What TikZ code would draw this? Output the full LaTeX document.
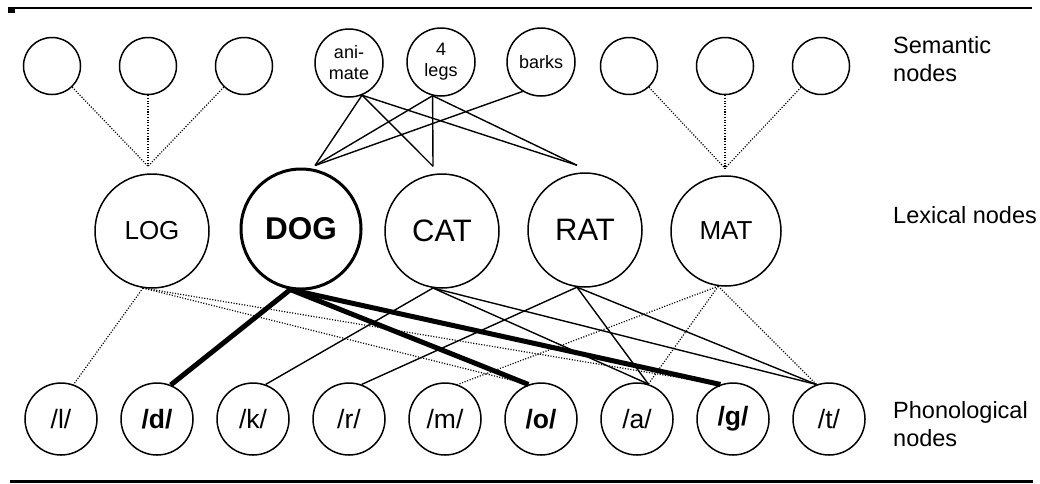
\documentclass[tikz,border=0pt]{standalone}
\usepackage{fontspec}
\setmainfont{Liberation Sans}
\usepackage{tikz}
\usetikzlibrary{positioning}

\begin{document}
\begin{tikzpicture}[x=1pt, y=-1pt, node distance=96pt]
\tikzstyle{sem} = [circle, draw=black, line width=1.5pt, minimum size=57pt, inner sep=0pt]
\tikzstyle{feat} = [sem, minimum size=68pt, align=center, font=\fontsize{18}{21}\selectfont]
\tikzstyle{lex} = [circle, draw=black, line width=1.5pt, minimum size=114pt, inner sep=0pt]
\tikzstyle{phon} = [circle, draw=black, line width=1.5pt, minimum size=72pt, inner sep=0pt, font=\fontsize{26.5}{30}\selectfont]
\tikzstyle{rowtext} = [anchor=west, align=left, inner sep=0pt, font=\fontsize{23.5}{28}\selectfont]
\tikzstyle{solidlink} = [draw, line width=1.4pt]
\tikzstyle{boldlink} = [draw, line width=5pt]
\tikzstyle{dotlink} = [draw, line width=1.2pt, dash pattern=on 1.1pt off 1.6pt]

\useasboundingbox (0,0) rectangle (1040,483);

% rules
\draw[line width=1.2pt] (8,8) -- (1032,8);
\fill (8,9) rectangle (15,13);
\draw[line width=3pt] (10,481) -- (1033,481);

% semantic nodes
\node[sem] (s1) at (52,66) {};
\node[sem] (s2) [right of=s1] {};
\node[sem] (s3) [right of=s2] {};
\node[feat] (anim) at (349,63) {ani-\\mate};
\node[feat] (legs) at (441,62) {4\\legs};
\node[feat] (barks) at (541,62) {barks};
\node[sem] (s7) at (629,66) {};
\node[sem] (s8) [right of=s7] {};
\node[sem] (s9) [right of=s8] {};

% lexical nodes
\node[lex, font=\fontsize{26}{30}\selectfont] (LOG) at (152,231) {LOG};
\node[lex, line width=3pt, minimum size=120pt, font=\fontsize{31.5}{36}\selectfont\bfseries] (DOG) at (301,229) {DOG};
\node[lex, font=\fontsize{31}{36}\selectfont] (CAT) at (442,231) {CAT};
\node[lex, font=\fontsize{31}{36}\selectfont] (RAT) at (585,230) {RAT};
\node[lex, minimum size=110pt, font=\fontsize{26}{30}\selectfont] (MAT) at (726,231) {MAT};

% phonological nodes
\node[phon] (phl) at (61,419) {/l/};
\node[phon] (phd) [right of=phl] {\bfseries /d/};
\node[phon] (phk) [right of=phd] {/k/};
\node[phon] (phr) [right of=phk] {/r/};
\node[phon] (phm) [right of=phr] {/m/};
\node[phon] (pho) [right of=phm] {\bfseries /o/};
\node[phon] (pha) [right of=pho] {/a/};
\node[phon] (phg) [right of=pha] {\bfseries /g/};
\node[phon] (pht) [right of=phg] {/t/};

% row labels
\node[rowtext] (semtext) at (893,59) {Semantic\\nodes};
\node[rowtext, anchor=base west] (lextext) at (893,223) {Lexical nodes};
\node[rowtext] (phontext) at (893,424) {Phonological\\nodes};

% junctions above the lexical nodes
\coordinate (LOGin) at ([xshift=-4pt, yshift=7pt]LOG.north);
\coordinate (DOGin) at ([xshift=14pt, yshift=2pt]DOG.north);
\coordinate (CATin) at ([xshift=-9pt, yshift=7pt]CAT.north);
\coordinate (RATin) at ([xshift=-8pt, yshift=7pt]RAT.north);
\coordinate (MATin) at ([xshift=-1pt, yshift=7pt]MAT.north);

\path (s1) edge[dotlink] (LOGin)
	(s2) edge[dotlink] (LOGin)
	(s3) edge[dotlink] (LOGin)
	(s7) edge[dotlink] (MATin)
	(s8) edge[dotlink] (MATin)
	(s9) edge[dotlink] (MATin)
	(anim.-68) edge[solidlink] (DOGin)
		edge[solidlink] (CATin)
		edge[solidlink] (RATin)
	(legs.-104) edge[solidlink] (DOGin)
		edge[solidlink] (CATin)
		edge[solidlink] (RATin)
	(barks.-122) edge[solidlink] (DOGin)
	;

\path (LOG.261) edge[dotlink] (phl.70)
		edge[dotlink] (pho.110)
		edge[dotlink] (phg.110)
	(DOG.260) edge[boldlink] (phd.68)
		edge[boldlink] (pho.110)
		edge[boldlink] (phg.110)
	(CAT.261) edge[solidlink] (phk.70)
		edge[solidlink] (pha.72)
		edge[solidlink] (pht.110)
	(RAT.262) edge[solidlink] (phr.70)
		edge[solidlink] (pha.72)
		edge[solidlink] (pht.110)
	(MAT.262) edge[dotlink] (phm.70)
		edge[dotlink] (pha.72)
		edge[dotlink] (pht.110)
	;

\end{tikzpicture}
\end{document}
